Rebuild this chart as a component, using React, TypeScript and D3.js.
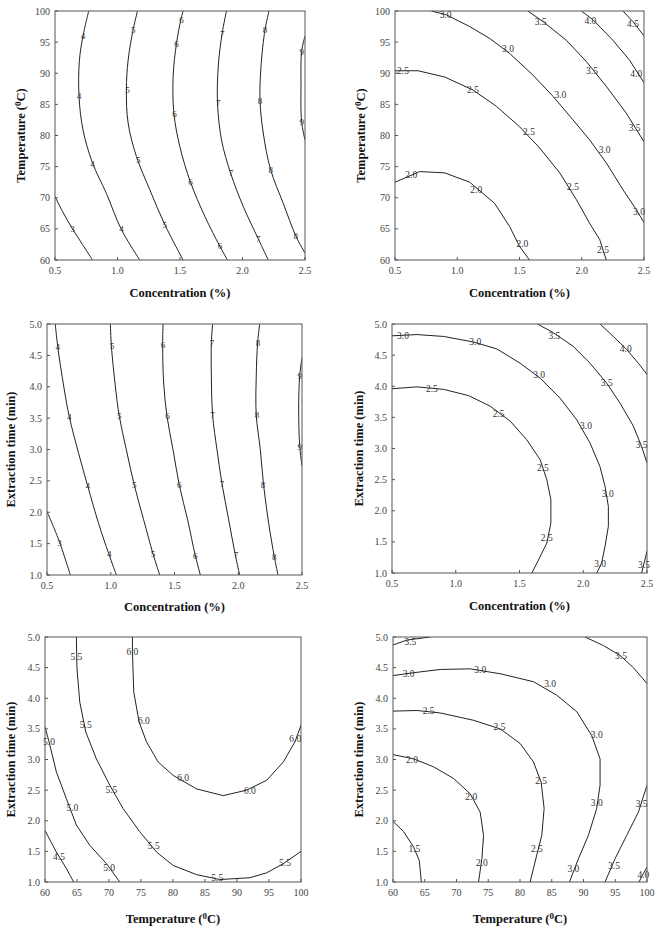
import * as d3 from 'd3';

type Pt = [number, number];
interface Contour { level: number; points: Pt[] }
interface CLabel { level: number; x: number; y: number }

const CONC_TICKS = [0.5, 1.0, 1.5, 2.0, 2.5];
const TEMP_TICKS = [60, 65, 70, 75, 80, 85, 90, 95, 100];
const TIME_TICKS = [1.0, 1.5, 2.0, 2.5, 3.0, 3.5, 4.0, 4.5, 5.0];

// concentration x temperature, integer levels
const p1Contours: Contour[] = [
  { level: 3, points: [[0.5, 70.2], [0.56, 67.8], [0.64, 65], [0.72, 62.5], [0.8, 60]] },
  { level: 4, points: [[0.77, 100], [0.724, 96], [0.695, 92], [0.692, 86.3], [0.724, 80.9], [0.8, 75.6], [0.911, 70.7], [1.031, 64.9], [1.178, 60]] },
  { level: 5, points: [[1.16, 100], [1.125, 97], [1.085, 92.1], [1.071, 87.3], [1.085, 82], [1.152, 76.6], [1.258, 71.3], [1.378, 65.7], [1.525, 60]] },
  { level: 6, points: [[1.525, 100], [1.507, 98.6], [1.472, 94.8], [1.445, 89.5], [1.451, 83.6], [1.499, 78.2], [1.584, 72.5], [1.699, 67], [1.819, 62.2], [1.88, 60]] },
  { level: 7, points: [[1.872, 100], [1.837, 96.4], [1.806, 91.1], [1.8, 85.2], [1.832, 79.3], [1.904, 74], [2.006, 68.6], [2.126, 63.4], [2.206, 60]] },
  { level: 8, points: [[2.212, 100], [2.18, 97], [2.148, 91.1], [2.14, 85.7], [2.166, 80.4], [2.225, 74.5], [2.326, 69.1], [2.428, 63.8], [2.5, 61.1]] },
  { level: 9, points: [[2.5, 96], [2.473, 93.5], [2.468, 88.4], [2.473, 82.2], [2.5, 79.3]] },
];
const p1Labels: CLabel[] = [
  { level: 3, x: 0.639, y: 65 },
  { level: 4, x: 0.724, y: 96 }, { level: 4, x: 0.692, y: 86.3 }, { level: 4, x: 0.799, y: 75.4 }, { level: 4, x: 1.031, y: 65 },
  { level: 5, x: 1.125, y: 97 }, { level: 5, x: 1.079, y: 87.3 }, { level: 5, x: 1.165, y: 76.1 }, { level: 5, x: 1.378, y: 65.7 },
  { level: 6, x: 1.512, y: 98.6 }, { level: 6, x: 1.472, y: 94.8 }, { level: 6, x: 1.456, y: 83.5 }, { level: 6, x: 1.584, y: 72.5 }, { level: 6, x: 1.819, y: 62.2 },
  { level: 7, x: 1.838, y: 96.4 }, { level: 7, x: 1.806, y: 85.2 }, { level: 7, x: 1.907, y: 74 }, { level: 7, x: 2.126, y: 63.4 },
  { level: 8, x: 2.18, y: 97 }, { level: 8, x: 2.14, y: 85.6 }, { level: 8, x: 2.225, y: 74.5 }, { level: 8, x: 2.425, y: 63.9 },
  { level: 9, x: 2.473, y: 93.5 }, { level: 9, x: 2.473, y: 82.2 },
];

// concentration x temperature
const p2Contours: Contour[] = [
  { level: 2.0, points: [[0.5, 72.5], [0.698, 74.2], [0.899, 74], [1.1, 72.5], [1.3, 69.1], [1.42, 65.4], [1.5, 62.2], [1.58, 60]] },
  { level: 2.5, points: [[0.5, 90.4], [0.685, 90.4], [0.899, 89.4], [1.127, 87.3], [1.314, 84.7], [1.501, 81.4], [1.662, 78], [1.823, 74], [1.957, 69.7], [2.063, 65.9], [2.144, 63.3], [2.197, 60]] },
  { level: 3.0, points: [[0.792, 100], [0.912, 99.4], [1.1, 97.5], [1.26, 95.6], [1.42, 93.2], [1.608, 89.7], [1.769, 86.3], [1.93, 82.5], [2.063, 79.3], [2.197, 75.6], [2.331, 71.3], [2.438, 68.1], [2.5, 66]] },
  { level: 3.5, points: [[1.568, 100], [1.689, 98.3], [1.876, 95.3], [2.036, 91.9], [2.197, 87.9], [2.357, 83.6], [2.5, 79]] },
  { level: 4.0, points: [[1.997, 100], [2.09, 98.6], [2.25, 95.3], [2.384, 92.1], [2.5, 88.5]] },
  { level: 4.5, points: [[2.331, 100], [2.411, 98.3], [2.5, 96]] },
];
const p2Labels: CLabel[] = [
  { level: 2.0, x: 0.631, y: 73.7 }, { level: 2.0, x: 1.153, y: 71.3 }, { level: 2.0, x: 1.523, y: 62.7 },
  { level: 2.5, x: 0.564, y: 90.4 }, { level: 2.5, x: 1.127, y: 87.3 }, { level: 2.5, x: 1.576, y: 80.6 }, { level: 2.5, x: 1.93, y: 71.8 }, { level: 2.5, x: 2.171, y: 61.7 },
  { level: 3.0, x: 0.907, y: 99.4 }, { level: 3.0, x: 1.408, y: 94 }, { level: 3.0, x: 1.828, y: 86.5 }, { level: 3.0, x: 2.184, y: 77.7 }, { level: 3.0, x: 2.46, y: 67.8 },
  { level: 3.5, x: 1.67, y: 98.3 }, { level: 3.5, x: 2.082, y: 90.4 }, { level: 3.5, x: 2.425, y: 81.3 },
  { level: 4.0, x: 2.069, y: 98.4 }, { level: 4.0, x: 2.438, y: 90 },
  { level: 4.5, x: 2.412, y: 97.9 },
];

// concentration x extraction time, integer levels
const p3Contours: Contour[] = [
  { level: 3, points: [[0.5, 2.01], [0.592, 1.56], [0.683, 1.0]] },
  { level: 4, points: [[0.565, 5.0], [0.584, 4.64], [0.631, 4.01], [0.675, 3.52], [0.748, 2.94], [0.819, 2.42], [0.905, 1.82], [0.984, 1.34], [1.044, 1.0]] },
  { level: 5, points: [[0.997, 5.0], [1.005, 4.65], [1.036, 4.01], [1.067, 3.53], [1.122, 3.0], [1.185, 2.43], [1.258, 1.88], [1.331, 1.34], [1.384, 1.0]] },
  { level: 6, points: [[1.41, 5.0], [1.407, 4.67], [1.415, 4.06], [1.441, 3.53], [1.488, 3.0], [1.538, 2.43], [1.603, 1.88], [1.663, 1.31], [1.703, 1.0]] },
  { level: 7, points: [[1.799, 5.0], [1.789, 4.7], [1.789, 4.16], [1.799, 3.55], [1.833, 3.0], [1.873, 2.45], [1.925, 1.88], [1.977, 1.32], [2.011, 1.0]] },
  { level: 8, points: [[2.168, 5.0], [2.152, 4.7], [2.141, 4.16], [2.141, 3.55], [2.173, 3.0], [2.199, 2.43], [2.239, 1.82], [2.283, 1.29], [2.312, 1.0]] },
  { level: 9, points: [[2.5, 4.46], [2.482, 4.18], [2.474, 3.64], [2.482, 3.06], [2.5, 2.74]] },
];
const p3Labels: CLabel[] = [
  { level: 3, x: 0.599, y: 1.52 },
  { level: 4, x: 0.584, y: 4.64 }, { level: 4, x: 0.675, y: 3.52 }, { level: 4, x: 0.819, y: 2.42 }, { level: 4, x: 0.989, y: 1.34 },
  { level: 5, x: 1.01, y: 4.65 }, { level: 5, x: 1.067, y: 3.53 }, { level: 5, x: 1.185, y: 2.43 }, { level: 5, x: 1.331, y: 1.34 },
  { level: 6, x: 1.41, y: 4.67 }, { level: 6, x: 1.446, y: 3.53 }, { level: 6, x: 1.538, y: 2.43 }, { level: 6, x: 1.663, y: 1.31 },
  { level: 7, x: 1.794, y: 4.7 }, { level: 7, x: 1.799, y: 3.55 }, { level: 7, x: 1.873, y: 2.45 }, { level: 7, x: 1.982, y: 1.32 },
  { level: 8, x: 2.155, y: 4.7 }, { level: 8, x: 2.147, y: 3.56 }, { level: 8, x: 2.194, y: 2.43 }, { level: 8, x: 2.283, y: 1.29 },
  { level: 9, x: 2.482, y: 4.18 }, { level: 9, x: 2.482, y: 3.05 },
];

// concentration x extraction time
const p4Contours: Contour[] = [
  { level: 2.5, points: [[0.5, 3.96], [0.696, 3.99], [0.905, 3.95], [1.1, 3.85], [1.27, 3.68], [1.427, 3.44], [1.557, 3.14], [1.662, 2.82], [1.714, 2.5], [1.746, 2.18], [1.746, 1.8], [1.714, 1.48], [1.649, 1.21], [1.597, 1.0]] },
  { level: 3.0, points: [[0.5, 4.81], [0.696, 4.83], [0.905, 4.8], [1.14, 4.71], [1.322, 4.6], [1.505, 4.37], [1.662, 4.13], [1.818, 3.81], [1.949, 3.46], [2.053, 3.09], [2.131, 2.71], [2.171, 2.39], [2.197, 2.07], [2.197, 1.75], [2.171, 1.43], [2.144, 1.16], [2.106, 1.0]] },
  { level: 3.5, points: [[1.641, 5.0], [1.765, 4.86], [1.922, 4.64], [2.053, 4.37], [2.184, 4.05], [2.288, 3.73], [2.393, 3.36], [2.458, 3.03], [2.5, 2.77]] },
  { level: 3.5, points: [[2.458, 1.0], [2.5, 1.35]] },
  { level: 4.0, points: [[2.132, 5.0], [2.236, 4.8], [2.341, 4.59], [2.432, 4.37], [2.5, 4.19]] },
];
const p4Labels: CLabel[] = [
  { level: 2.5, x: 0.813, y: 3.96 }, { level: 2.5, x: 1.336, y: 3.56 }, { level: 2.5, x: 1.683, y: 2.7 }, { level: 2.5, x: 1.714, y: 1.57 },
  { level: 3.0, x: 0.586, y: 4.81 }, { level: 3.0, x: 1.153, y: 4.71 }, { level: 3.0, x: 1.654, y: 4.19 }, { level: 3.0, x: 2.022, y: 3.36 }, { level: 3.0, x: 2.192, y: 2.27 }, { level: 3.0, x: 2.132, y: 1.15 },
  { level: 3.5, x: 1.774, y: 4.81 }, { level: 3.5, x: 2.184, y: 4.05 }, { level: 3.5, x: 2.458, y: 3.06 }, { level: 3.5, x: 2.476, y: 1.13 },
  { level: 4.0, x: 2.333, y: 4.6 },
];

// temperature x extraction time
const p5Contours: Contour[] = [
  { level: 4.5, points: [[60, 1.84], [61.77, 1.49], [63.34, 1.22], [64.48, 1.0]] },
  { level: 5.0, points: [[60, 3.53], [60.63, 3.29], [61.77, 2.8], [63.34, 2.36], [64.9, 1.93], [66.99, 1.6], [69.6, 1.3], [71.68, 1.0]] },
  { level: 5.5, points: [[64.9, 5.0], [65.0, 4.48], [65.43, 3.94], [66.37, 3.45], [68.03, 3.01], [70.12, 2.58], [72.2, 2.2], [74.81, 1.82], [77.42, 1.49], [80.03, 1.27], [83.68, 1.12], [87.33, 1.04], [92.02, 1.07], [94.63, 1.15], [97.24, 1.3], [100, 1.5]] },
  { level: 6.0, points: [[73.66, 5.0], [73.66, 4.76], [73.87, 4.1], [74.71, 3.61], [75.85, 3.29], [77.68, 2.96], [80.03, 2.74], [83.68, 2.52], [87.85, 2.41], [91.5, 2.5], [94.63, 2.66], [97.24, 2.96], [99.06, 3.29], [100, 3.56]] },
];
const p5Labels: CLabel[] = [
  { level: 4.5, x: 62.19, y: 1.42 },
  { level: 5.0, x: 60.63, y: 3.29 }, { level: 5.0, x: 64.28, y: 2.21 }, { level: 5.0, x: 70.01, y: 1.24 },
  { level: 5.5, x: 64.9, y: 4.68 }, { level: 5.5, x: 66.36, y: 3.57 }, { level: 5.5, x: 70.38, y: 2.51 }, { level: 5.5, x: 77.0, y: 1.6 }, { level: 5.5, x: 86.91, y: 1.07 }, { level: 5.5, x: 97.5, y: 1.32 },
  { level: 6.0, x: 73.66, y: 4.76 }, { level: 6.0, x: 75.44, y: 3.64 }, { level: 6.0, x: 81.59, y: 2.7 }, { level: 6.0, x: 92.02, y: 2.49 }, { level: 6.0, x: 99.11, y: 3.34 },
];

// temperature x extraction time
const p6Contours: Contour[] = [
  { level: 1.5, points: [[60, 1.99], [61.68, 1.82], [63.25, 1.57], [64.14, 1.35], [64.46, 1.0]] },
  { level: 2.0, points: [[60, 3.08], [63.25, 3.01], [66.4, 2.88], [69.54, 2.69], [72.16, 2.44], [73.73, 2.14], [74.26, 1.76], [74.0, 1.38], [73.47, 1.0]] },
  { level: 2.5, points: [[60, 3.79], [63.77, 3.8], [67.44, 3.76], [72.69, 3.64], [76.88, 3.5], [80.03, 3.26], [82.12, 2.96], [83.33, 2.63], [83.8, 2.2], [83.43, 1.76], [82.64, 1.44], [81.59, 1.0]] },
  { level: 3.0, points: [[60, 4.37], [62.73, 4.41], [67.44, 4.47], [72.16, 4.48], [76.88, 4.4], [82.12, 4.27], [85.79, 4.05], [88.94, 3.78], [91.3, 3.39], [92.61, 3.01], [92.61, 2.58], [92.08, 2.2], [90.77, 1.76], [89.2, 1.38], [87.79, 1.0]] },
  { level: 3.5, points: [[60, 4.87], [62.2, 4.95], [65.87, 5.0]] },
  { level: 3.5, points: [[90.25, 5.0], [93.13, 4.86], [95.75, 4.7], [97.85, 4.5], [100, 4.24]] },
  { level: 3.5, points: [[93.39, 1.0], [94.97, 1.38], [96.8, 1.76], [98.64, 2.14], [100, 2.58]] },
  { level: 4.0, points: [[98.74, 1.0], [99.43, 1.14], [100, 1.24]] },
];
const p6Labels: CLabel[] = [
  { level: 1.5, x: 63.36, y: 1.54 },
  { level: 2.0, x: 62.99, y: 3.0 }, { level: 2.0, x: 72.32, y: 2.39 }, { level: 2.0, x: 74.0, y: 1.31 },
  { level: 2.5, x: 65.61, y: 3.79 }, { level: 2.5, x: 76.78, y: 3.53 }, { level: 2.5, x: 83.33, y: 2.66 }, { level: 2.5, x: 82.65, y: 1.54 },
  { level: 3.0, x: 62.46, y: 4.4 }, { level: 3.0, x: 73.74, y: 4.47 }, { level: 3.0, x: 84.74, y: 4.24 }, { level: 3.0, x: 92.08, y: 3.41 }, { level: 3.0, x: 92.08, y: 2.29 }, { level: 3.0, x: 88.41, y: 1.22 },
  { level: 3.5, x: 62.73, y: 4.93 }, { level: 3.5, x: 95.91, y: 4.7 }, { level: 3.5, x: 99.16, y: 2.28 }, { level: 3.5, x: 94.81, y: 1.26 },
  { level: 4.0, x: 99.42, y: 1.12 },
];

const FONT = "'Liberation Serif', 'Times New Roman', serif";

type AxisKind = 'conc' | 'temp' | 'time';

const AXES = {
  conc: { domain: [0.5, 2.5], ticks: CONC_TICKS, fmt: '.1f' },
  temp: { domain: [60, 100], ticks: TEMP_TICKS, fmt: 'd' },
  time: { domain: [1, 5], ticks: TIME_TICKS, fmt: '.1f' },
};

interface PanelCfg {
  left: number; top: number; width: number; height: number;
  xKind: AxisKind; yKind: AxisKind;
  contours: Contour[]; labels: CLabel[];
  labelFmt: string; smooth: boolean;
  yTitleX: number; xTitleGap: number;
}

const PANELS: PanelCfg[] = [
  { left: 55, top: 11, width: 250, height: 249, xKind: 'conc', yKind: 'temp', contours: p1Contours, labels: p1Labels, labelFmt: 'd', smooth: true, yTitleX: 21, xTitleGap: 37 },
  { left: 395, top: 11, width: 249, height: 249, xKind: 'conc', yKind: 'temp', contours: p2Contours, labels: p2Labels, labelFmt: '.1f', smooth: false, yTitleX: 361, xTitleGap: 37 },
  { left: 47, top: 324, width: 255, height: 251, xKind: 'conc', yKind: 'time', contours: p3Contours, labels: p3Labels, labelFmt: 'd', smooth: true, yTitleX: 11, xTitleGap: 36 },
  { left: 392, top: 324, width: 255, height: 249, xKind: 'conc', yKind: 'time', contours: p4Contours, labels: p4Labels, labelFmt: '.1f', smooth: false, yTitleX: 359, xTitleGap: 37 },
  { left: 45, top: 637, width: 256, height: 245, xKind: 'temp', yKind: 'time', contours: p5Contours, labels: p5Labels, labelFmt: '.1f', smooth: false, yTitleX: 11, xTitleGap: 41 },
  { left: 393, top: 637, width: 254, height: 245, xKind: 'temp', yKind: 'time', contours: p6Contours, labels: p6Labels, labelFmt: '.1f', smooth: false, yTitleX: 359, xTitleGap: 41 },
];

function AxisTitle({ kind }: { kind: AxisKind }) {
  if (kind === 'conc') return <>Concentration (%)</>;
  if (kind === 'time') return <>Extraction time (min)</>;
  return (
    <>
      Temperature (<tspan dy={-4} fontSize={9}>0</tspan>
      <tspan dy={4}>C)</tspan>
    </>
  );
}

function Panel({ cfg, idx }: { cfg: PanelCfg; idx: number }) {
  const xa = AXES[cfg.xKind];
  const ya = AXES[cfg.yKind];
  const x = d3.scaleLinear().domain(xa.domain).range([cfg.left, cfg.left + cfg.width]);
  const y = d3.scaleLinear().domain(ya.domain).range([cfg.top + cfg.height, cfg.top]);
  const line = d3
    .line<Pt>()
    .x((d) => x(d[0]))
    .y((d) => y(d[1]))
    .curve(cfg.smooth ? d3.curveCatmullRom.alpha(0.5) : d3.curveLinear);
  const xFmt = d3.format(xa.fmt);
  const yFmt = d3.format(ya.fmt);
  const lFmt = d3.format(cfg.labelFmt);
  const bottom = cfg.top + cfg.height;
  const clipId = `clip-${idx}`;

  return (
    <g>
      <defs>
        <clipPath id={clipId}>
          <rect x={cfg.left} y={cfg.top} width={cfg.width} height={cfg.height} />
        </clipPath>
      </defs>

      {/* contour lines */}
      <g clipPath={`url(#${clipId})`}>
        {cfg.contours.map((c, i) => (
          <path key={i} d={line(c.points) || ''} fill="none" stroke="#222" strokeWidth={1} />
        ))}
      </g>

      {/* contour labels */}
      {cfg.labels.map((l, i) => (
        <text
          key={i}
          x={x(l.x)}
          y={y(l.y)}
          dy="0.35em"
          textAnchor="middle"
          fontSize={cfg.labelFmt === 'd' ? 9 : 9.5}
          fill="#333"
          fontFamily={FONT}
        >
          {lFmt(l.level)}
        </text>
      ))}

      {/* frame */}
      <rect x={cfg.left} y={cfg.top} width={cfg.width} height={cfg.height} fill="none" stroke="#555" strokeWidth={1} />

      {/* x ticks */}
      {xa.ticks.map((t) => (
        <g key={`x${t}`}>
          <line x1={x(t)} x2={x(t)} y1={bottom} y2={bottom - 3} stroke="#555" />
          <text x={x(t)} y={bottom + 14} textAnchor="middle" fontSize={10} fill="#444" fontFamily={FONT}>
            {xFmt(t)}
          </text>
        </g>
      ))}

      {/* y ticks */}
      {ya.ticks.map((t) => (
        <g key={`y${t}`}>
          <line x1={cfg.left} x2={cfg.left + 3} y1={y(t)} y2={y(t)} stroke="#555" />
          <text x={cfg.left - 5} y={y(t)} dy="0.35em" textAnchor="end" fontSize={10} fill="#444" fontFamily={FONT}>
            {yFmt(t)}
          </text>
        </g>
      ))}

      {/* axis titles */}
      <text
        x={cfg.left + cfg.width / 2}
        y={bottom + cfg.xTitleGap}
        textAnchor="middle"
        fontSize={12.5}
        fontWeight="bold"
        fill="#111"
        fontFamily={FONT}
      >
        <AxisTitle kind={cfg.xKind} />
      </text>
      <text
        transform={`translate(${cfg.yTitleX},${cfg.top + cfg.height / 2}) rotate(-90)`}
        dy="0.35em"
        textAnchor="middle"
        fontSize={12.5}
        fontWeight="bold"
        fill="#111"
        fontFamily={FONT}
      >
        <AxisTitle kind={cfg.yKind} />
      </text>
    </g>
  );
}

export default function App() {
  return (
    <div style={{ position: 'absolute', left: 0, top: 0 }}>
      <svg width={657} height={930} style={{ display: 'block', background: '#fff' }}>
        {PANELS.map((p, i) => (
          <Panel key={i} cfg={p} idx={i} />
        ))}
      </svg>
    </div>
  );
}
